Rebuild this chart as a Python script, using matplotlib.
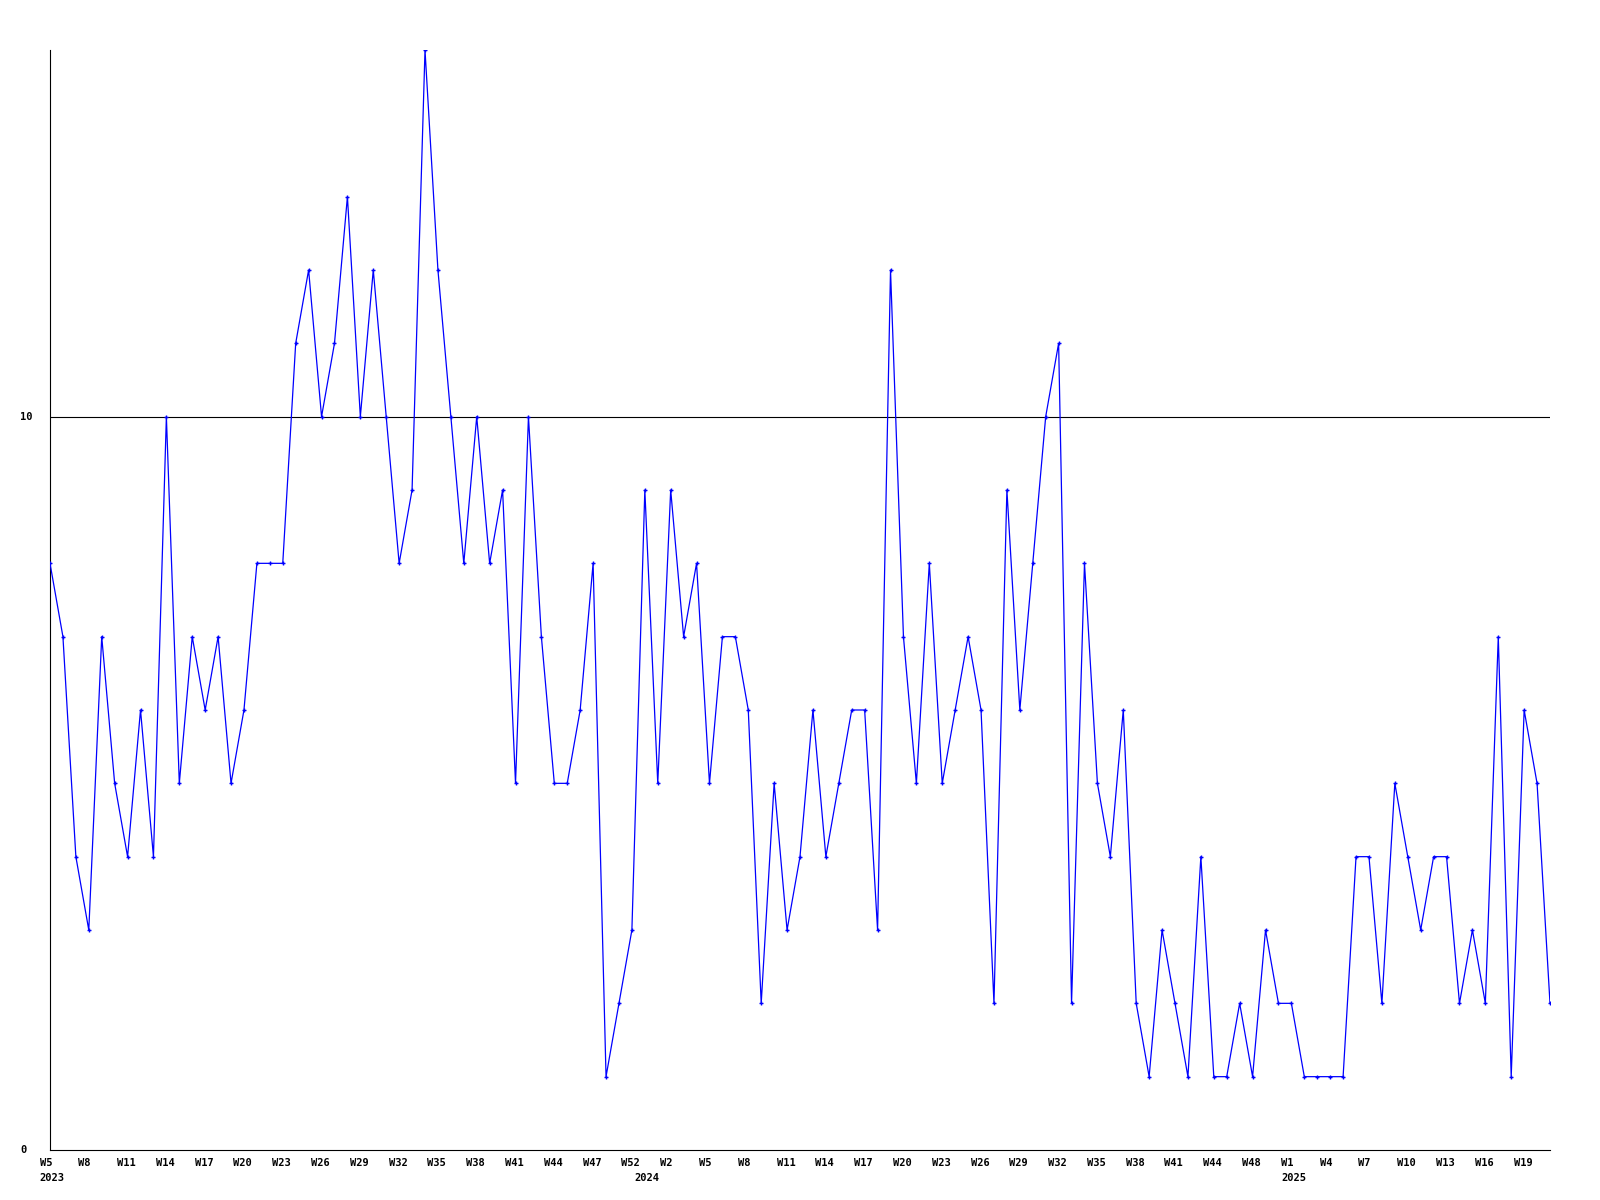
import matplotlib
matplotlib.use("Agg")
import matplotlib.pyplot as plt
import matplotlib.transforms as mtransforms
import numpy as np

values = [8, 7, 4, 3, 7, 5, 4, 6, 4, 10, 5, 7, 6, 7, 5, 6, 8, 8, 8, 11,
          12, 10, 11, 13, 10, 12, 10, 8, 9, 15, 12, 10, 8, 10, 8, 9, 5, 10, 7, 5,
          5, 6, 8, 1, 2, 3, 9, 5, 9, 7, 8, 5, 7, 7, 6, 2, 5, 3, 4, 6,
          4, 5, 6, 6, 3, 12, 7, 5, 8, 5, 6, 7, 6, 2, 9, 6, 8, 10, 11, 2,
          8, 5, 4, 6, 2, 1, 3, 2, 1, 4, 1, 1, 2, 1, 3, 2, 2, 1, 1, 1,
          1, 4, 4, 2, 5, 4, 3, 4, 4, 2, 3, 2, 7, 1, 6, 5, 2]

week_labels = ["W5", "W8", "W11", "W14", "W17", "W20", "W23", "W26", "W29", "W32",
               "W35", "W38", "W41", "W44", "W47", "W52", "W2", "W5", "W8", "W11",
               "W14", "W17", "W20", "W23", "W26", "W29", "W32", "W35", "W38", "W41",
               "W44", "W48", "W1", "W4", "W7", "W10", "W13", "W16", "W19"]
label_step = 3
year_labels = ["2023", "2024", "2025"]
year_positions = [0, 46, 96]
y_tick_values = [0, 10]
y_max = 15
ref_value = 10

W, H = 1600, 1200
fig = plt.figure(figsize=(W / 100, H / 100), dpi=100)
ax = fig.add_axes([50 / W, 1 - 1150 / H, 1500 / W, 1100 / H])

x = np.arange(len(values))
ax.plot(x, values, color="#0000ff", linewidth=0.9, marker="+",
        markersize=3.5, markeredgewidth=1.0, zorder=3)
ax.axhline(ref_value, color="black", linewidth=0.8, zorder=2)

ax.set_xlim(0, len(values) - 1)
ax.set_ylim(0, y_max)
ax.set_xticks([])
ax.set_yticks([])
for s in ["top", "right"]:
    ax.spines[s].set_visible(False)
for s in ["left", "bottom"]:
    ax.spines[s].set_linewidth(0.8)
    ax.spines[s].set_color("black")

font = dict(family="DejaVu Sans Mono", fontweight="bold", fontsize=7.5, color="black")

# x week labels: left aligned slightly left of the point
xoff = mtransforms.ScaledTranslation(-10.5 / 100, -12.5 / 100, fig.dpi_scale_trans)
tr = ax.get_xaxis_transform() + xoff
for i, lab in enumerate(week_labels):
    ax.text(i * label_step, 0, lab, transform=tr, ha="left", va="center",
            clip_on=False, **font)

yoff = mtransforms.ScaledTranslation(-10.5 / 100, -28 / 100, fig.dpi_scale_trans)
tr2 = ax.get_xaxis_transform() + yoff
for pos, lab in zip(year_positions, year_labels):
    ax.text(pos, 0, lab, transform=tr2, ha="left", va="center",
            clip_on=False, **font)

# y labels, left aligned near the figure edge
ytr = mtransforms.blended_transform_factory(fig.transFigure, ax.transData)
for v in y_tick_values:
    ax.text(20 / W, v, str(v), transform=ytr, ha="left", va="center", **font)

fig.savefig("out.png", dpi=100)
